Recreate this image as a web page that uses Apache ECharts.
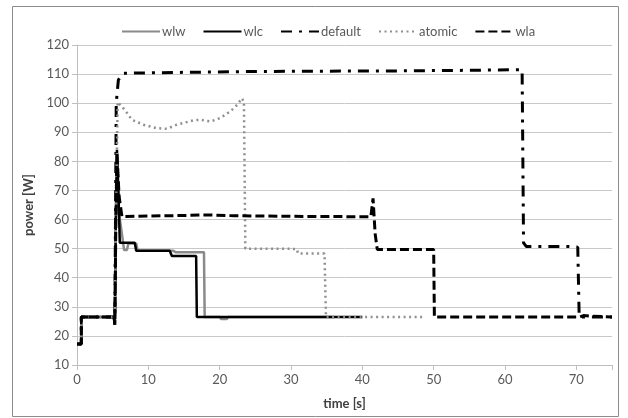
<!DOCTYPE html>
<html><head><meta charset="utf-8">
<script src="https://cdn.jsdelivr.net/npm/echarts@6/dist/echarts.min.js"></script>
<style>html,body{margin:0;padding:0;background:#fff}#c{width:628px;height:418px}</style>
</head><body><div id="c"></div>
<script>
var xTicks = [0,10,20,30,40,50,60,70];
var yTicks = [10,20,30,40,50,60,70,80,90,100,110,120];

var wlwT = [0,0.6,0.6,5.2,5.3,5.45,5.6,5.9,6.3,6.6,7.0,7.2,8.3,8.5,13.5,13.8,17.8,17.9,20,20.2,21,21.2,36];
var wlwP = [17.2,17.2,26.5,26.5,23.8,60,80,62,55,49.5,49.5,51.8,51.8,49.3,49.3,48.8,48.8,26.5,26.5,25.8,25.8,26.5,26.5];

var wlcT = [0,0.6,0.6,5.2,5.3,5.45,5.6,5.8,6.0,8.1,8.3,13.0,13.3,16.7,16.8,40];
var wlcP = [17.2,17.2,26.5,26.5,23.8,60,84,70,52,52,49.3,49.3,47.5,47.5,26.5,26.5];

var defT = [0,0.6,0.6,5.2,5.3,5.5,5.8,6.5,15,25,35,45,55,62.4,62.6,63.0,69,70.2,70.4,75];
var defP = [17.2,17.2,26.5,26.5,23.8,100,108,110.3,110.6,110.9,111,111.1,111.3,111.5,52,50.7,50.7,50.5,26.5,26.5];

var atoT = [0,0.6,0.6,5.2,5.3,5.45,5.7,6.7,7.7,9.3,11.2,12.6,14,16.3,17.3,18.7,20.1,21.5,22.5,23.1,23.4,23.6,27,30.8,31,34.7,34.9,48.5];
var atoP = [17.2,17.2,26.5,26.5,23.8,60,100.4,97.7,94.3,92.6,91.4,91.2,92.6,94.1,94.3,93.7,94.9,97.2,99.5,101.7,100.5,50,50,49.9,48.3,48.3,26.5,26.5];

var wlaT = [0,0.6,0.6,5.2,5.3,5.45,5.6,5.9,6.3,10,15,18,22,30,38,41.2,41.5,41.8,42.1,50,50.1,70.5,71,72,75];
var wlaP = [17.2,17.2,26.5,26.5,23.8,60,83,68,61,61.2,61.4,61.6,61.3,61.1,61,61,67.3,55,49.7,49.7,26.5,26.5,27,26.8,26.5];

function pairs(t,p){return t.map(function(v,i){return [v,p[i]];});}

var FONT = 'Lato';
var chart = echarts.init(document.getElementById('c'), null, {renderer:'canvas'});
function ser(name, t, p, color, width, type, z){
  return {name:name, type:'line', data:pairs(t,p), symbol:'none', showSymbol:false, z:z,
    lineStyle:{color:color, width:width, type:type, cap:'butt'}, itemStyle:{color:color}, animation:false};
}
chart.setOption({
  animation:false,
  textStyle:{fontFamily:FONT},
  graphic:[{type:'rect', shape:{x:12.5,y:6.5,width:606,height:410}, style:{fill:'none', stroke:'#8c8c8c', lineWidth:1}, silent:true}],
  legend:{top:20, left:116, itemWidth:38, itemHeight:10, itemGap:17,
    itemStyle:{opacity:0},
    textStyle:{fontFamily:FONT, fontSize:13, color:'#595959', padding:[0,0,0,-3]},
    data:['wlw','wlc','default','atomic','wla']},
  grid:{left:77, right:16, top:45, bottom:53},
  xAxis:{type:'value', min:0, max:75, interval:10,
    name:'time [s]', nameLocation:'middle', nameGap:32,
    nameTextStyle:{fontFamily:FONT, fontWeight:'bold', fontSize:13, color:'#404040'},
    axisLine:{lineStyle:{color:'#bfbfbf'}}, axisTick:{show:true, length:5, lineStyle:{color:'#bfbfbf'}},
    axisLabel:{fontFamily:FONT, fontSize:13, color:'#595959', margin:8,
      formatter:function(v){return xTicks.indexOf(v)>=0? String(v):'';}},
    splitLine:{show:false}},
  yAxis:{type:'value', min:10, max:120, interval:10,
    name:'power [W]', nameLocation:'middle', nameGap:40, nameRotate:90,
    nameTextStyle:{fontFamily:FONT, fontWeight:'bold', fontSize:13, color:'#404040'},
    axisLine:{show:true, lineStyle:{color:'#bfbfbf'}}, axisTick:{show:true, length:5, lineStyle:{color:'#bfbfbf'}},
    axisLabel:{fontFamily:FONT, fontSize:13, color:'#595959', margin:8,
      formatter:function(v){return yTicks.indexOf(v)>=0? String(v):'';}},
    splitLine:{show:true, lineStyle:{color:'#c8c8c8', width:1}}},
  series:[
    ser('wlw', wlwT, wlwP, '#8a8a8a', 2.5, 'solid', 2),
    ser('wlc', wlcT, wlcP, '#000000', 2.5, 'solid', 3),
    ser('default', defT, defP, '#000000', 3, [11,7,3,7], 4),
    ser('atomic', atoT, atoP, '#8f8f8f', 2.5, [2,3.5], 5),
    ser('wla', wlaT, wlaP, '#000000', 3, [9,4], 6)
  ]
});
</script></body></html>
